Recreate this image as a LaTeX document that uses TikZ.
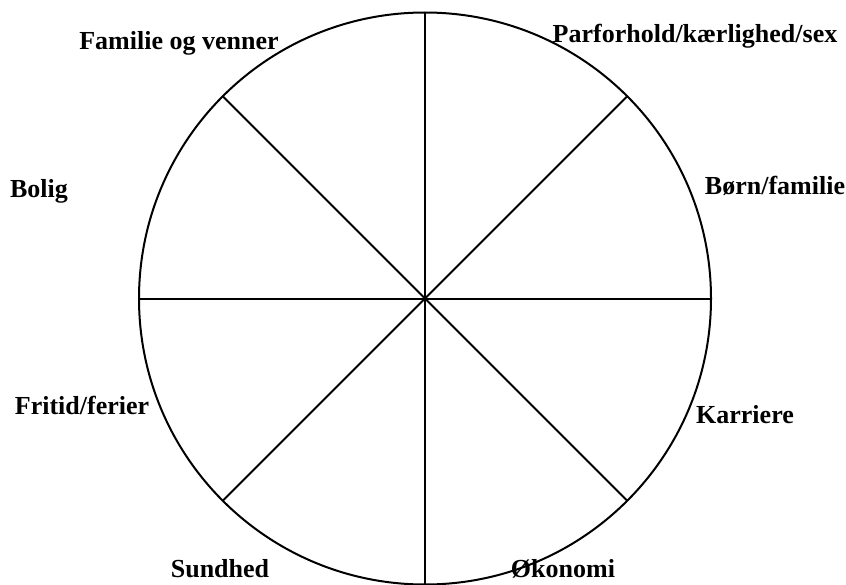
\documentclass[tikz,border=0pt]{standalone}
\usepackage{fontspec}
\setmainfont{Liberation Serif}
\usetikzlibrary{calc,positioning}

\begin{document}
\begin{tikzpicture}[x=.75pt,y=-.75pt,font=\fontsize{19.5}{22}\selectfont\bfseries,
    lab/.style={inner sep=0pt,anchor=base}]
    \useasboundingbox (0,0) rectangle (846,585);
    \begin{scope}
      \clip (0,0) rectangle (846,585);
      \coordinate (mid) at (425,298.5);
      \draw[line width=1.5pt] (mid) circle (286);
      \foreach \a in {0,45,...,315} {
        \coordinate (r\a) at ($(mid)+(\a:286)$);
        \draw[line width=1.5pt] (mid) -- (r\a);
      }
    \end{scope}
    \node[lab] (famven) at (179,50) {Familie og venner};
    \node[lab] (parfor) at (695,43) {Parforhold/kærlighed/sex};
    \node[lab] (boern) at (775,194) {Børn/familie};
    \node[lab] (bolig) at (39,197) {Bolig};
    \node[lab] (fritid) at (82,414) {Fritid/ferier};
    \node[lab] (karr) at (745,423) {Karriere};
    \node[lab] (sund) at (220,577) {Sundhed};
    \node[lab] (oekon) at (563,577) {Økonomi};
  \end{tikzpicture}
\end{document}
